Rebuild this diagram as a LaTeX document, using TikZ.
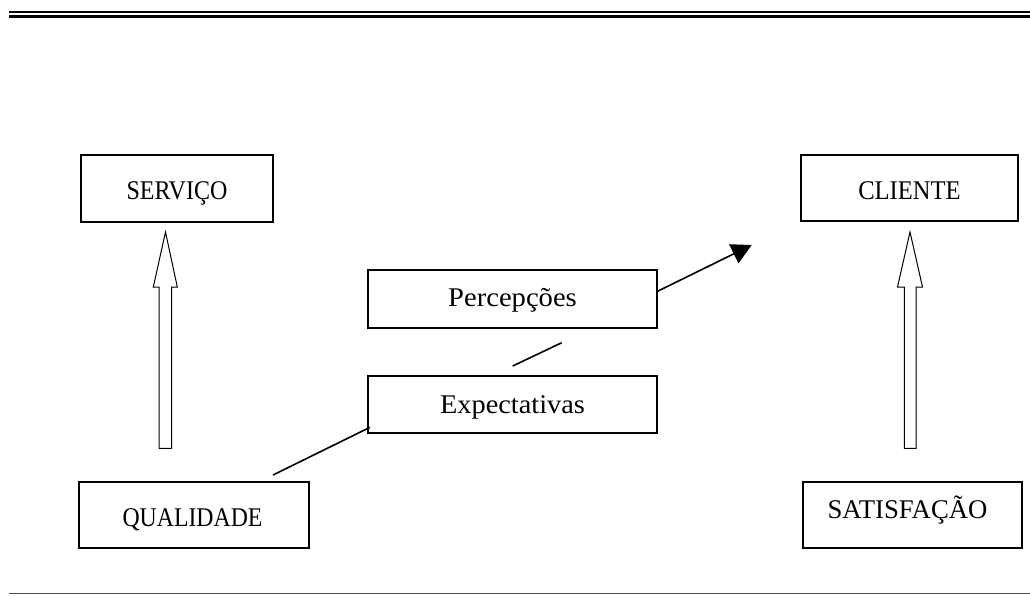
\documentclass[tikz,border=0pt]{standalone}
\usepackage{fontspec}
\setmainfont{Liberation Serif}
\usetikzlibrary{arrows.meta}
\begin{document}
\begin{tikzpicture}[x=1pt,y=-1pt,
  box/.style={draw=black,line width=2pt,inner sep=0pt,align=center,text depth=0pt,font=\fontsize{27}{30}\selectfont},
  hollow/.style={draw=black,line width=1pt,fill=white,line join=miter},
  conn/.style={draw=black,line width=1.6pt}]
\useasboundingbox (0,0) rectangle (1030,595);
% rules
\draw[line width=2.6pt] (9,12) -- (1030,12);
\draw[line width=3pt] (9,16.7) -- (1030,16.7);
\draw[line width=1.2pt,draw=black!70] (9,593.5) -- (1030,593.5);
% boxes
\node[box,minimum width=192pt,minimum height=67pt,text height=22.9pt] (serv) at (177,188.5) {\scalebox{0.89}[1]{SERVIÇO}};
\node[box,minimum width=217pt,minimum height=66pt,text height=23.9pt] (cli) at (909.5,188) {\scalebox{0.91}[1]{CLIENTE}};
\node[box,minimum width=230pt,minimum height=66.5pt,text height=23.9pt] (qual) at (194,515) {\scalebox{0.88}[1]{QUALIDADE}\hspace*{3pt}};
\node[box,minimum width=219pt,minimum height=66.5pt,text height=6.9pt] (sat) at (912.5,515) {\scalebox{0.99}[1]{SATISFAÇÃO}\hspace*{10pt}};
\node[box,minimum width=289pt,minimum height=58pt,text height=15.9pt] (perc) at (512.5,299) {\scalebox{1.06}[1]{Percepções}};
\node[box,minimum width=289pt,minimum height=57pt,text height=18.9pt] (expe) at (512.5,404.5) {\scalebox{1.05}[1]{Expectativas}};
% hollow arrows
\draw[hollow] (159,448.3) -- (159,287) -- (153.3,287) -- (165.5,232) -- (177.3,287) -- (171.5,287) -- (171.5,448.3) -- cycle;
\draw[hollow] (904.3,448.3) -- (904.3,287) -- (897.5,287) -- (910,232) -- (922.5,287) -- (916,287) -- (916,448.3) -- cycle;
% connectors
\coordinate (q1) at (273,475);
\coordinate (e1) at (370,427.3);
\coordinate (m1) at (512.7,366);
\coordinate (m2) at (561.7,342.7);
\coordinate (p1) at (656.7,291.7);
\coordinate (tip) at (751.7,245);
\draw[conn] (q1) -- (e1);
\draw[conn] (m1) -- (m2);
\draw[conn,-{Triangle[length=20pt,width=21pt]}] (p1) -- (tip);
\end{tikzpicture}
\end{document}
